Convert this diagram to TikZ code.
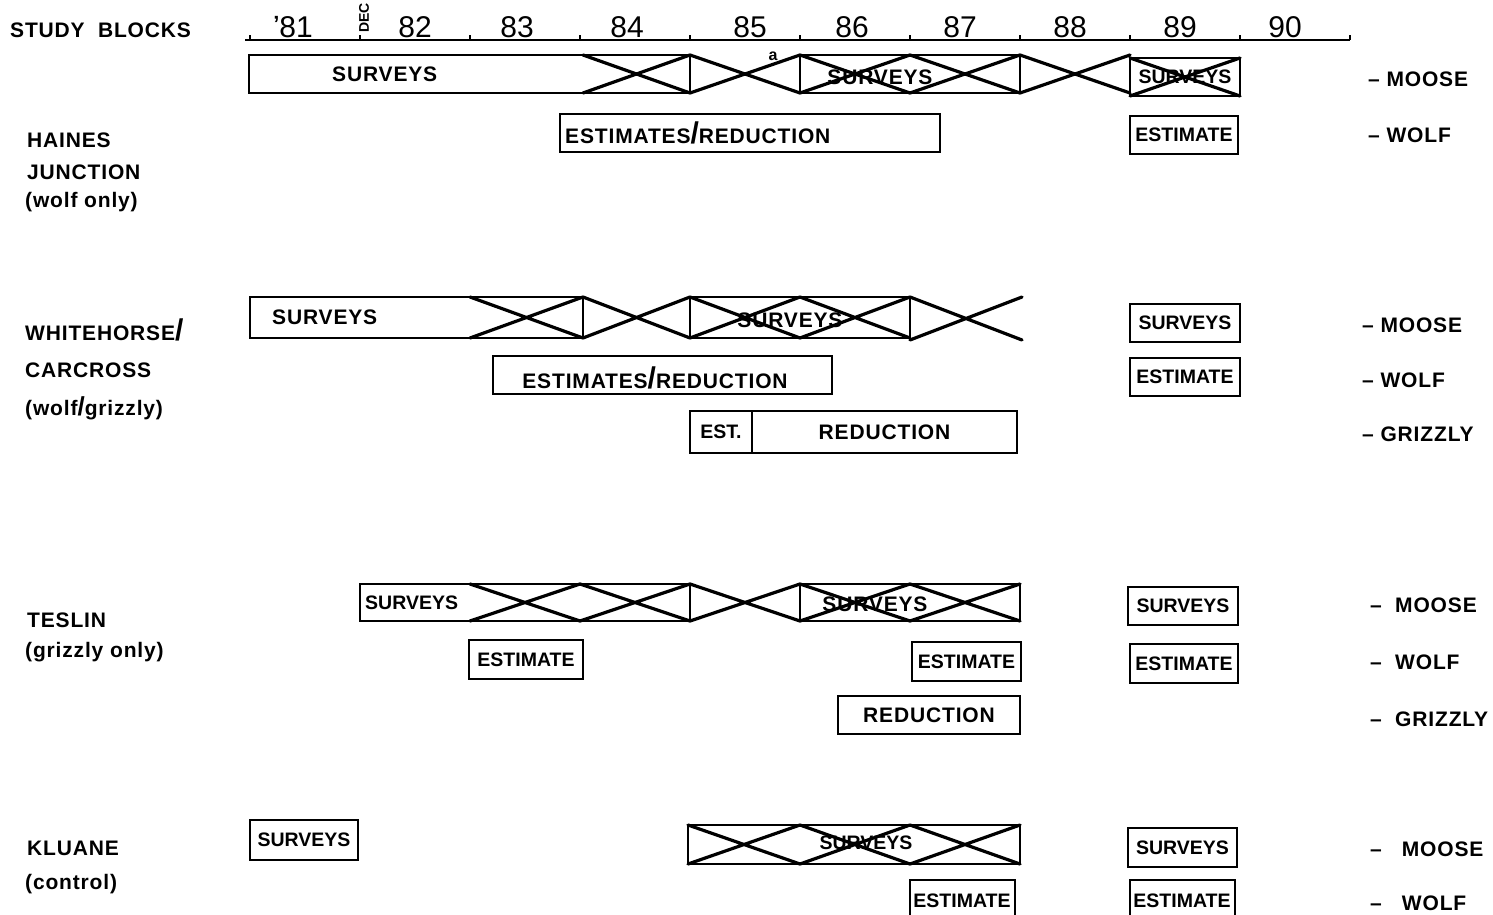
\documentclass[tikz,border=0pt]{standalone}
\usepackage{fontspec}
\setmainfont{Liberation Sans}
\newfontfamily\wfam[LetterSpace=4]{Liberation Sans}
\newcommand\wf{\wfam\bfseries\fontsize{21}{24}\selectfont}
\newcommand\tf{\rmfamily\bfseries\fontsize{19.5}{22}\selectfont}
\newcommand\yf{\rmfamily\fontsize{30}{30}\selectfont}
\newcommand\mybox[6]{\node[bar, minimum width={(#4-#2)*1pt}, minimum height={(#5-#3)*1pt}] (#1) at ({(#2+#4)/2},{(#3+#5)/2}) {#6};}
\newcommand\mycross[4]{\draw[xl] (#1,#3) -- (#2,#4) (#1,#4) -- (#2,#3);}
\tikzset{
  bar/.style={draw, line width=2.6pt, inner sep=0pt, outer sep=0pt},
  xl/.style={line width=3.2pt, line cap=round},
  lab/.style={inner sep=0pt, anchor=west},
  ctr/.style={inner sep=0pt},
}
\begin{document}
\begin{tikzpicture}[x=1pt,y=-1pt]
\useasboundingbox (0,0) rectangle (1493,915);
% ---------- axis ----------
\draw[line width=2.4pt] (245,40) -- (1350,40);
\foreach \t in {250,360,470,580,690,800,910,1020,1130,1240,1350}
  \draw[line width=2.4pt] (\t,40) -- (\t,35);
\node[ctr, anchor=base] (y81) at (293,38) {\yf \raisebox{6pt}{\bfseries\fontsize{22}{22}\selectfont '}81};
\node[ctr, anchor=base] (y82) at (415,38) {\yf 82};
\node[ctr, anchor=base] (y83) at (517,38) {\yf 83};
\node[ctr, anchor=base] (y84) at (627,38) {\yf 84};
\node[ctr, anchor=base] (y85) at (750,38) {\yf 85};
\node[ctr, anchor=base] (y86) at (852,38) {\yf 86};
\node[ctr, anchor=base] (y87) at (960,38) {\yf 87};
\node[ctr, anchor=base] (y88) at (1070,38) {\yf 88};
\node[ctr, anchor=base] (y89) at (1180,38) {\yf 89};
\node[ctr, anchor=base] (y90) at (1285,38) {\yf 90};
\node[ctr, rotate=90, anchor=west] (dec) at (364,33) {\rmfamily\bfseries\fontsize{14}{14}\selectfont DEC};
% ---------- left labels ----------
\node[lab] (sb) at (10,30) {\wf STUDY\ \ BLOCKS};
\node[lab] (h1) at (27,140) {\wf HAINES};
\node[lab] (h2) at (27,172) {\wf JUNCTION};
\node[lab] (h3) at (25,202) {\wf (wolf only)};
\node[lab] (w1) at (25,330) {\wf WHITEHORSE{\fontsize{30}{30}\selectfont/}};
\node[lab] (w2) at (25,370) {\wf CARCROSS};
\node[lab] (w3) at (25,408) {\wf (wolf{\fontsize{26}{26}\selectfont/}grizzly)};
\node[lab] (t1) at (27,620) {\wf TESLIN};
\node[lab] (t2) at (25,652) {\wf (grizzly only)};
\node[lab] (k1) at (27,848) {\wf KLUANE};
\node[lab] (k2) at (25,884) {\wf (control)};
% ---------- right labels ----------
\node[lab] (r1) at (1368,79) {\wf – MOOSE};
\node[lab] (r2) at (1368,135) {\wf – WOLF};
\node[lab] (r3) at (1362,325) {\wf – MOOSE};
\node[lab] (r4) at (1362,380) {\wf – WOLF};
\node[lab] (r5) at (1362,434) {\wf – GRIZZLY};
\node[lab] (r6) at (1370,605) {\wf –\ \ MOOSE};
\node[lab] (r7) at (1370,662) {\wf –\ \ WOLF};
\node[lab] (r8) at (1370,719) {\wf –\ \ GRIZZLY};
\node[lab] (r9) at (1370,849) {\wf –\ \ \ MOOSE};
\node[lab] (r10) at (1370,903) {\wf –\ \ \ WOLF};
% ---------- HAINES JUNCTION ----------
\mybox{hm1}{249}{55}{690}{93}{}
\node[lab] (hm1t) at (332,74) {\wf SURVEYS};
\mycross{583}{690}{55}{93}
\mycross{690}{800}{55}{93}
\mybox{hm2}{800}{55}{1020}{93}{}
\mycross{800}{910}{55}{93}
\mycross{910}{1020}{55}{93}
\node[ctr] (hm2t) at (880,77) {\wf SURVEYS};
\node[ctr] (ha) at (773,56) {\bfseries\fontsize{16}{16}\selectfont a};
\mycross{1020}{1130}{55}{93}
\mybox{hm3}{1130}{58}{1240}{96}{}
\mycross{1130}{1240}{58}{96}
\node[ctr] (hm3t) at (1185,77) {\tf SURVEYS};
\mybox{hw1}{560}{114}{940}{152}{}
\node[lab] (hw1t) at (565,133) {\wf ESTIMATES{\fontsize{30}{30}\selectfont/}REDUCTION};
\mybox{hw2}{1130}{116}{1238}{154}{\tf ESTIMATE}
% ---------- WHITEHORSE / CARCROSS ----------
\mybox{wm1}{250}{297}{583}{338}{}
\node[lab] (wm1t) at (272,317) {\wf SURVEYS};
\mycross{470}{583}{297}{338}
\mycross{583}{690}{297}{338}
\mybox{wm2}{690}{297}{910}{338}{}
\mycross{690}{800}{297}{338}
\mycross{800}{910}{297}{338}
\node[ctr] (wm2t) at (790,320) {\wf SURVEYS};
\mycross{910}{1022}{297}{340}
\mybox{wm3}{1130}{304}{1240}{342}{\tf SURVEYS}
\mybox{ww1}{493}{356}{832}{394}{}
\node[ctr] (ww1t) at (655,378) {\wf ESTIMATES{\fontsize{30}{30}\selectfont/}REDUCTION};
\mybox{ww2}{1130}{358}{1240}{396}{\tf ESTIMATE}
\mybox{wg1}{690}{411}{752}{453}{\tf EST.}
\mybox{wg2}{752}{411}{1017}{453}{\wf REDUCTION}
% ---------- TESLIN ----------
\mybox{tm1}{360}{584}{690}{621}{}
\node[lab] (tm1t) at (365,603) {\tf SURVEYS};
\mycross{470}{580}{584}{621}
\mycross{580}{690}{584}{621}
\mycross{690}{800}{584}{621}
\mybox{tm2}{800}{584}{1020}{621}{}
\mycross{800}{910}{584}{621}
\mycross{910}{1020}{584}{621}
\node[ctr] (tm2t) at (875,604) {\wf SURVEYS};
\mybox{tm3}{1128}{587}{1238}{625}{\tf SURVEYS}
\mybox{tw1}{469}{640}{583}{679}{\tf ESTIMATE}
\mybox{tw2}{912}{642}{1021}{681}{\tf ESTIMATE}
\mybox{tw3}{1130}{644}{1238}{683}{\tf ESTIMATE}
\mybox{tg1}{838}{696}{1020}{734}{\wf REDUCTION}
% ---------- KLUANE ----------
\mybox{km1}{250}{820}{358}{860}{\tf SURVEYS}
\mybox{km2}{688}{825}{1020}{864}{}
\mycross{688}{800}{825}{864}
\mycross{800}{910}{825}{864}
\mycross{910}{1020}{825}{864}
\node[ctr] (km2t) at (866,843) {\tf SURVEYS};
\mybox{km3}{1128}{828}{1237}{867}{\tf SURVEYS}
\mybox{kw1}{910}{880}{1015}{925}{}
\node[ctr] (kw1t) at (962,901) {\tf ESTIMATE};
\mybox{kw2}{1130}{880}{1235}{925}{}
\node[ctr] (kw2t) at (1182,901) {\tf ESTIMATE};
\end{tikzpicture}
\end{document}
